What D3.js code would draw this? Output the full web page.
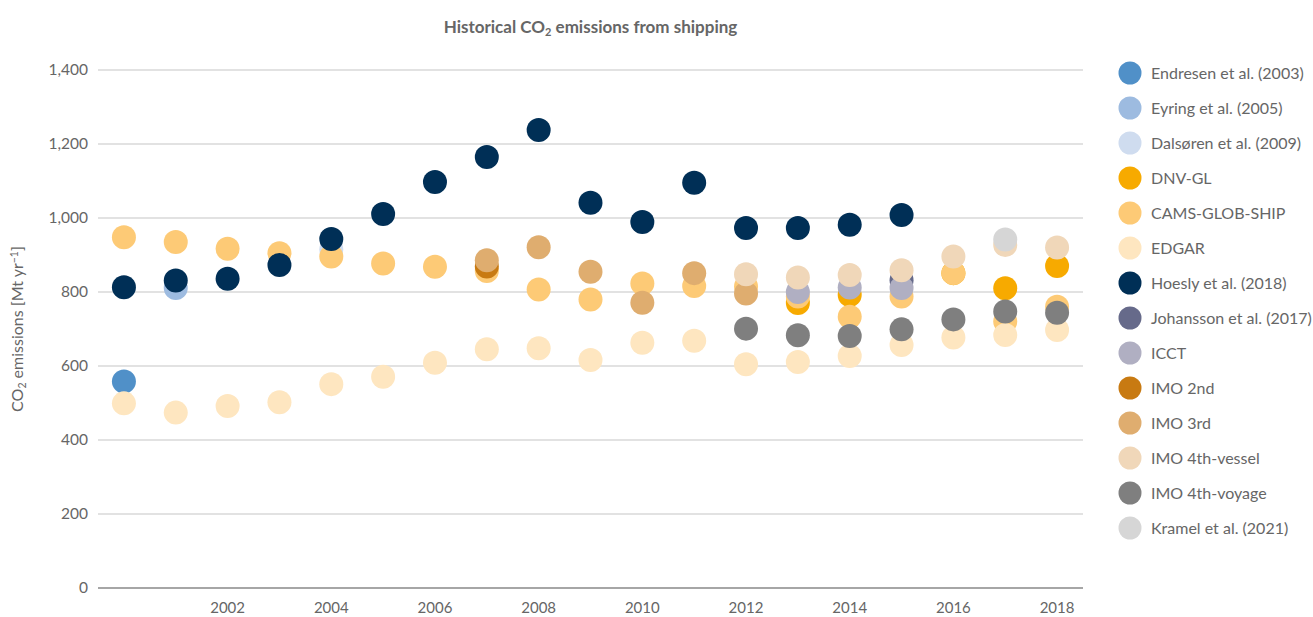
<!DOCTYPE html>
<meta charset="utf-8">
<style>
  body { margin: 0; background: #fff; }
  #chart svg { display: block; }
  #chart text { font-family: Lato, "Open Sans", sans-serif; fill: #666; }
</style>
<body>
  <div id="chart"></div>
  <script src="https://d3js.org/d3.v7.min.js"></script>
  <script>

    // years on the x axis
    const years = [2000, 2001, 2002, 2003, 2004, 2005, 2006, 2007, 2008, 2009,
      2010, 2011, 2012, 2013, 2014, 2015, 2016, 2017, 2018]
    const yearTicks = [2002, 2004, 2006, 2008, 2010, 2012, 2014, 2016, 2018]
    const valueTicks = [0, 200, 400, 600, 800, 1000, 1200, 1400]

    // series values, [year, Mt CO2]
    const endresen = [[2000, 558]]
    const eyring = [[2001, 811]]
    const dalsoren = [[2004, 915]]
    const dnvgl = [[2013, 770], [2014, 792], [2016, 851], [2017, 810], [2018, 870]]
    const cams = [[2000, 948], [2001, 935], [2002, 917], [2003, 905], [2004, 896], [2005, 877],
      [2006, 868], [2007, 857], [2008, 807], [2009, 780], [2010, 823], [2011, 816],
      [2012, 815], [2013, 788], [2014, 733], [2015, 788], [2016, 851], [2017, 720], [2018, 760]]
    const edgar = [[2000, 499], [2001, 474], [2002, 492], [2003, 502], [2004, 551], [2005, 571],
      [2006, 609], [2007, 645], [2008, 648], [2009, 616], [2010, 663], [2011, 668],
      [2012, 605], [2013, 611], [2014, 627], [2015, 657], [2016, 677], [2017, 684], [2018, 697]]
    const hoesly = [[2000, 813], [2001, 831], [2002, 836], [2003, 873], [2004, 943], [2005, 1011],
      [2006, 1097], [2007, 1165], [2008, 1238], [2009, 1041], [2010, 989], [2011, 1095],
      [2012, 973], [2013, 973], [2014, 982], [2015, 1008]]
    const johansson = [[2015, 832]]
    const icct = [[2013, 800], [2014, 812], [2015, 811]]
    const imo2 = [[2007, 869]]
    const imo3 = [[2007, 886], [2008, 921], [2009, 855], [2010, 771], [2011, 851], [2012, 796]]
    const imo4vessel = [[2012, 848], [2013, 839], [2014, 846], [2015, 859], [2016, 896], [2017, 927], [2018, 920]]
    const imo4voyage = [[2012, 701], [2013, 683], [2014, 681], [2015, 699], [2016, 726], [2017, 747], [2018, 744]]
    const kramel = [[2017, 942]]

    const seriesNames = ["Endresen et al. (2003)", "Eyring et al. (2005)", "Dalsøren et al. (2009)",
      "DNV-GL", "CAMS-GLOB-SHIP", "EDGAR", "Hoesly et al. (2018)", "Johansson et al. (2017)",
      "ICCT", "IMO 2nd", "IMO 3rd", "IMO 4th-vessel", "IMO 4th-voyage", "Kramel et al. (2021)"]
    const seriesValues = [endresen, eyring, dalsoren, dnvgl, cams, edgar, hoesly, johansson,
      icct, imo2, imo3, imo4vessel, imo4voyage, kramel]

    const colors = ["#5090c8", "#9dbbe0", "#cfdcef", "#f7aa00", "#fdca76", "#fee6c0", "#002f56",
      "#666a8a", "#b0afc2", "#c87a12", "#dfad6f", "#f0d7b9", "#7f7f7f", "#d6d6d6"]

    const W = 1313, H = 617
    const margin = { top: 70, right: 230, bottom: 29, left: 98 }

    const svg = d3.select("#chart")
      .append("svg")
      .attr("width", W)
      .attr("height", H)

    const x = d3.scalePoint()
      .domain(years)
      .range([margin.left, W - margin.right])
      .padding(0.5)

    const y = d3.scaleLinear()
      .domain([0, 1400])
      .range([H - margin.bottom, margin.top])

    // gridlines
    svg.append("g")
      .selectAll("line")
      .data(valueTicks.filter(d => d > 0))
      .join("line")
      .attr("x1", margin.left)
      .attr("x2", W - margin.right)
      .attr("y1", d => y(d))
      .attr("y2", d => y(d))
      .attr("stroke", "#c6c6c6")
      .attr("stroke-width", 1.2)

    // zero line
    svg.append("line")
      .attr("x1", margin.left)
      .attr("x2", W - margin.right)
      .attr("y1", y(0))
      .attr("y2", y(0))
      .attr("stroke", "#a6a6a6")
      .attr("stroke-width", 2)

    // y tick labels
    svg.append("g")
      .selectAll("text")
      .data(valueTicks)
      .join("text")
      .attr("x", margin.left - 10)
      .attr("y", d => y(d))
      .attr("dy", "0.35em")
      .attr("text-anchor", "end")
      .style("font-size", "15.5px")
      .text(d => d3.format(",")(d))

    // x tick labels
    svg.append("g")
      .selectAll("text")
      .data(yearTicks)
      .join("text")
      .attr("x", d => x(d))
      .attr("y", H - 4)
      .attr("text-anchor", "middle")
      .style("font-size", "15px")
      .text(d => d)

    // title
    const title = svg.append("text")
      .attr("x", (margin.left + W - margin.right) / 2)
      .attr("y", 33)
      .attr("text-anchor", "middle")
      .style("font-size", "17px")
      .style("font-weight", "bold")
    title.append("tspan").text("Historical CO")
    title.append("tspan").attr("dy", 3).style("font-size", "11px").text("2")
    title.append("tspan").attr("dy", -3).text(" emissions from shipping")

    // y axis title
    const yTitle = svg.append("text")
      .attr("transform", `translate(23, ${(margin.top + H - margin.bottom) / 2}) rotate(-90)`)
      .attr("text-anchor", "middle")
      .style("font-size", "16px")
    yTitle.append("tspan").text("CO")
    yTitle.append("tspan").attr("dy", 3).style("font-size", "10.5px").text("2")
    yTitle.append("tspan").attr("dy", -3).text(" emissions [Mt yr")
    yTitle.append("tspan").attr("dy", -5).style("font-size", "10.5px").text("−1")
    yTitle.append("tspan").attr("dy", 5).text("]")

    // dots, drawn in legend order
    seriesValues.forEach(function (vals, i) {
      svg.append("g")
        .selectAll("circle")
        .data(vals)
        .join("circle")
        .attr("cx", d => x(d[0]))
        .attr("cy", d => y(d[1]))
        .attr("r", 12)
        .attr("fill", colors[i])
    })

    // legend
    const legend = svg.append("g")
      .selectAll("g")
      .data(seriesNames)
      .join("g")
      .attr("transform", (d, i) => `translate(1130, ${73 + i * 35})`)

    legend.append("circle")
      .attr("r", 11.5)
      .attr("fill", (d, i) => colors[i])

    legend.append("text")
      .attr("x", 21)
      .attr("dy", "0.35em")
      .style("font-size", "16px")
      .text(d => d)

  </script>
</body>
</html>
